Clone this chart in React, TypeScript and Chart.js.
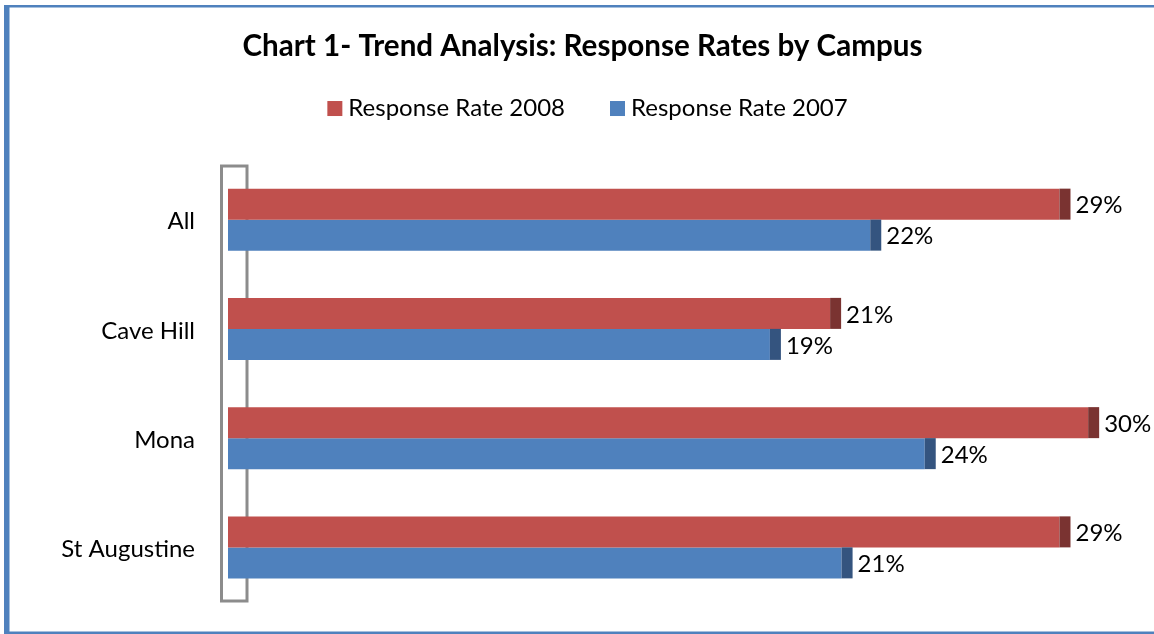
import React, { useEffect, useRef } from "react";
import { Chart, registerables } from "chart.js";

Chart.register(...registerables);

const campuses = ["All", "Cave Hill", "Mona", "St Augustine"];
const rate2008 = [0.29, 0.21, 0.3, 0.29];
const rate2007 = [0.224, 0.189, 0.243, 0.214];
const seriesLabels = ["Response Rate 2008", "Response Rate 2007"];
const titleText = "Chart 1- Trend Analysis: Response Rates by Campus";

const RED = "#C0504D";
const RED_SIDE = "#7A3331";
const BLUE = "#4F81BD";
const BLUE_SIDE = "#34547F";
const sideColors = [RED_SIDE, BLUE_SIDE];
const FONT = "Lato";
const TEXT_SIZE = 24;
const CAP = 11;

const framePlugin = {
  id: "frame",
  beforeDraw(chart: any) {
    const { ctx, width, height } = chart;
    ctx.save();
    ctx.fillStyle = "#ffffff";
    ctx.fillRect(0, 0, width, height);
    ctx.fillStyle = BLUE;
    ctx.fillRect(4, 5, width, 2.5);
    ctx.fillRect(4, 5, 5.5, height - 5);
    ctx.fillRect(4, height - 2.5, width, 2.5);
    ctx.restore();
  },
};

const wallPlugin = {
  id: "wall",
  beforeDatasetsDraw(chart: any) {
    const { ctx, chartArea: a } = chart;
    ctx.save();
    ctx.strokeStyle = "#8C8C8C";
    ctx.lineWidth = 3;
    const l = a.left - 6.5;
    const r = a.left + 19;
    const t = a.top + 1;
    const b = a.bottom - 1;
    ctx.strokeRect(l, t, r - l, b - t);
    ctx.restore();
  },
};

const capsPlugin = {
  id: "caps",
  afterDatasetsDraw(chart: any) {
    const { ctx } = chart;
    ctx.save();
    chart.data.datasets.forEach((ds: any, di: number) => {
      const meta = chart.getDatasetMeta(di);
      meta.data.forEach((el: any, i: number) => {
        const { x, y, height } = el.getProps(["x", "y", "height"], true);
        ctx.fillStyle = sideColors[di];
        ctx.fillRect(x, y - height / 2, CAP, height);
        ctx.fillStyle = "#000000";
        ctx.font = `${TEXT_SIZE}px ${FONT}`;
        ctx.textBaseline = "middle";
        ctx.textAlign = "left";
        ctx.fillText(Math.round(ds.data[i] * 100) + "%", x + CAP + 5, y + 1.5);
      });
    });
    ctx.restore();
  },
};

const legendPlugin = {
  id: "customLegend",
  afterDraw(chart: any) {
    const { ctx, chartArea: a, width } = chart;
    ctx.save();
    ctx.font = `${TEXT_SIZE}px ${FONT}`;
    const items = chart.data.datasets.map((ds: any) => ({
      text: ds.label as string,
      color: ds.backgroundColor as string,
      w: ctx.measureText(ds.label).width,
    }));
    const box = 15;
    const gapBox = 6;
    const gapItem = 45;
    const total =
      items.reduce((s: number, it: any) => s + box + gapBox + it.w, 0) +
      gapItem * (items.length - 1);
    let x = width / 2 + 5 - total / 2;
    const baseY = a.top - 49;
    items.forEach((it: any) => {
      ctx.fillStyle = it.color;
      ctx.fillRect(x, baseY - box, box, box);
      ctx.fillStyle = "#000000";
      ctx.textBaseline = "alphabetic";
      ctx.textAlign = "left";
      ctx.fillText(it.text, x + box + gapBox, baseY);
      x += box + gapBox + it.w + gapItem;
    });
    ctx.restore();
  },
};

export default function App() {
  const canvasRef = useRef<HTMLCanvasElement | null>(null);

  useEffect(() => {
    if (!canvasRef.current) return;
    const chart = new Chart(canvasRef.current, {
      type: "bar",
      data: {
        labels: campuses,
        datasets: [
          {
            label: seriesLabels[0],
            data: rate2008,
            backgroundColor: RED,
            borderWidth: 0,
            categoryPercentage: 0.5675,
            barPercentage: 1,
          },
          {
            label: seriesLabels[1],
            data: rate2007,
            backgroundColor: BLUE,
            borderWidth: 0,
            categoryPercentage: 0.5675,
            barPercentage: 1,
          },
        ],
      },
      options: {
        indexAxis: "y",
        animation: false,
        responsive: false,
        devicePixelRatio: 1,
        layout: { padding: { top: 0, bottom: 32, left: 0, right: 0 } },
        scales: {
          x: { display: false, min: 0, max: 0.3268 },
          y: {
            grid: { display: false, drawTicks: false },
            border: { display: false },
            ticks: {
              color: "#000000",
              padding: 33,
              labelOffset: 2,
              font: { family: FONT, size: TEXT_SIZE },
            },
            afterFit(scale: any) {
              scale.width = 228;
              scale.paddingTop = 0;
              scale.paddingBottom = 0;
            },
          },
        },
        plugins: {
          legend: { display: false },
          tooltip: { enabled: false },
          title: {
            display: true,
            text: titleText,
            color: "#000000",
            font: { family: FONT, size: 29.6, weight: "bold", lineHeight: 1.2 },
            padding: { top: 28.5, bottom: 101 },
          },
        },
      } as any,
      plugins: [framePlugin, wallPlugin, capsPlugin, legendPlugin],
    });
    return () => chart.destroy();
  }, []);

  return (
    <div
      style={{
        position: "fixed",
        left: 0,
        top: 0,
        width: 1154,
        height: 634,
        overflow: "hidden",
        background: "#ffffff",
      }}
    >
      <canvas ref={canvasRef} width={1165} height={634} style={{ display: "block" }} />
    </div>
  );
}
